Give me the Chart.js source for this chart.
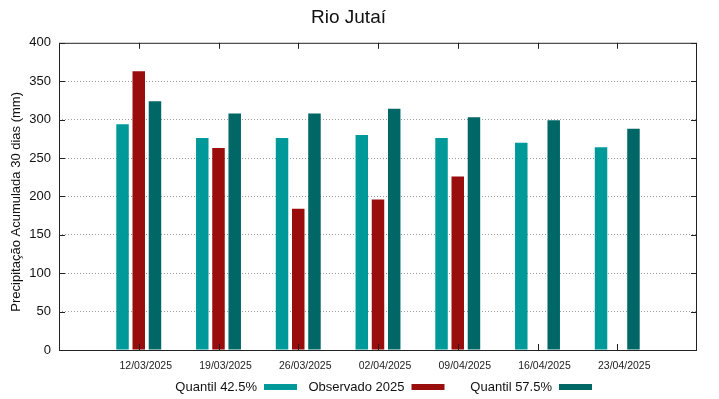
<!DOCTYPE html>
<html>
<head>
<meta charset="utf-8">
<script src="https://cdn.jsdelivr.net/npm/chart.js@4/dist/chart.umd.min.js"></script>
<style>
  html, body { margin: 0; padding: 0; background: #fff; }
  #wrap { width: 719px; height: 399px; }
</style>
</head>
<body>
<div id="wrap"><canvas id="rioChart" width="719" height="399"></canvas></div>
<script>
const dates = ["12/03/2025", "19/03/2025", "26/03/2025", "02/04/2025", "09/04/2025", "16/04/2025", "23/04/2025"];
const quantil425 = [294, 276, 276, 280, 276, 270, 264];
const observado2025 = [363, 263, 184, 196, 226, null, null];
const quantil575 = [324, 308, 308, 314, 303, 299, 288];
const yTicks = [0, 50, 100, 150, 200, 250, 300, 350, 400];

// empty slot at each end so the weeks sit like in the original plot
const pad = (arr) => [null, ...arr, null];
const labels = ["", ...dates, ""];

const FONT = "'Liberation Sans', Arial, sans-serif";

// gnuplot-like frame, inward ticks and legend (text first, swatch after)
const framePlugin = {
  id: "frame",
  afterDraw(chart) {
    const { ctx, chartArea: a, scales } = chart;
    ctx.save();
    ctx.strokeStyle = "#222";
    ctx.lineWidth = 1;
    ctx.strokeRect(a.left + 0.5, a.top + 0.5, a.right - a.left - 1, a.bottom - a.top);
    ctx.beginPath();
    yTicks.forEach((v) => {
      const y = Math.round(scales.y.getPixelForValue(v)) + 0.5;
      ctx.moveTo(a.left, y); ctx.lineTo(a.left + 6, y);
      ctx.moveTo(a.right, y); ctx.lineTo(a.right - 6, y);
    });
    dates.forEach((d, i) => {
      const x = Math.round(scales.x.getPixelForValue(i + 1)) + 0.5;
      ctx.moveTo(x, a.top); ctx.lineTo(x, a.top + 6);
      ctx.moveTo(x, a.bottom); ctx.lineTo(x, a.bottom - 6);
    });
    ctx.stroke();

    ctx.font = "13px " + FONT;
    ctx.fillStyle = "#111";
    ctx.textAlign = "right";
    ctx.textBaseline = "middle";
    chart.data.datasets.forEach((ds, i) => {
      const xEnd = 257 + i * 147.5;
      const y = 387;
      ctx.fillText(ds.label, xEnd, y);
      ctx.fillStyle = ds.backgroundColor;
      ctx.fillRect(xEnd + 7, y - 3, 33, 6);
      ctx.fillStyle = "#111";
    });
    ctx.restore();
  },
};

const ctx = document.getElementById("rioChart").getContext("2d");
const rioChart = new Chart(ctx, {
  type: "bar",
  data: {
    labels: labels,
    datasets: [
      { label: "Quantil 42.5%", data: pad(quantil425), backgroundColor: "#009999" },
      { label: "Observado 2025", data: pad(observado2025), backgroundColor: "#990d0d" },
      { label: "Quantil 57.5%", data: pad(quantil575), backgroundColor: "#006666" },
    ],
  },
  options: {
    responsive: false,
    animation: false,
    layout: { padding: { left: 0, right: 22, top: 0, bottom: 1 } },
    datasets: {
      bar: { categoryPercentage: 0.61, barPercentage: 0.77, borderWidth: 0 },
    },
    plugins: {
      legend: { display: false },
      tooltip: { enabled: false },
      title: {
        display: true,
        text: "Rio Jutaí",
        color: "#111",
        font: { family: FONT, size: 19, weight: "normal" },
        padding: { top: 6, bottom: 14 },
      },
    },
    scales: {
      x: {
        type: "category",
        offset: false,
        grid: { display: false, drawTicks: false },
        border: { display: false },
        ticks: {
          autoSkip: false,
          maxRotation: 0,
          padding: 10,
          labelOffset: 7,
          color: "#222",
          font: { family: FONT, size: 10.5 },
        },
        afterFit: (scale) => { scale.height = 48; },
      },
      y: {
        min: 0,
        max: 400,
        afterBuildTicks: (scale) => { scale.ticks = yTicks.map((v) => ({ value: v })); },
        grid: {
          color: (c) => (c.tick.value === 0 || c.tick.value === 400 ? "rgba(0,0,0,0)" : "#9a9a9a"),
          drawTicks: false,
          lineWidth: 1,
        },
        border: { display: false, dash: [1, 2] },
        ticks: {
          padding: 8,
          color: "#111",
          font: { family: FONT, size: 13 },
        },
        title: {
          display: true,
          // trailing spaces nudge the centred label a little downward
          text: "Precipitação Acumulada 30 dias (mm)\u00a0\u00a0\u00a0",
          color: "#111",
          font: { family: FONT, size: 13 },
          padding: { top: 9, bottom: 0 },
        },
        afterFit: (scale) => { scale.width = 59; },
      },
    },
  },
  plugins: [framePlugin],
});
</script>
</body>
</html>
